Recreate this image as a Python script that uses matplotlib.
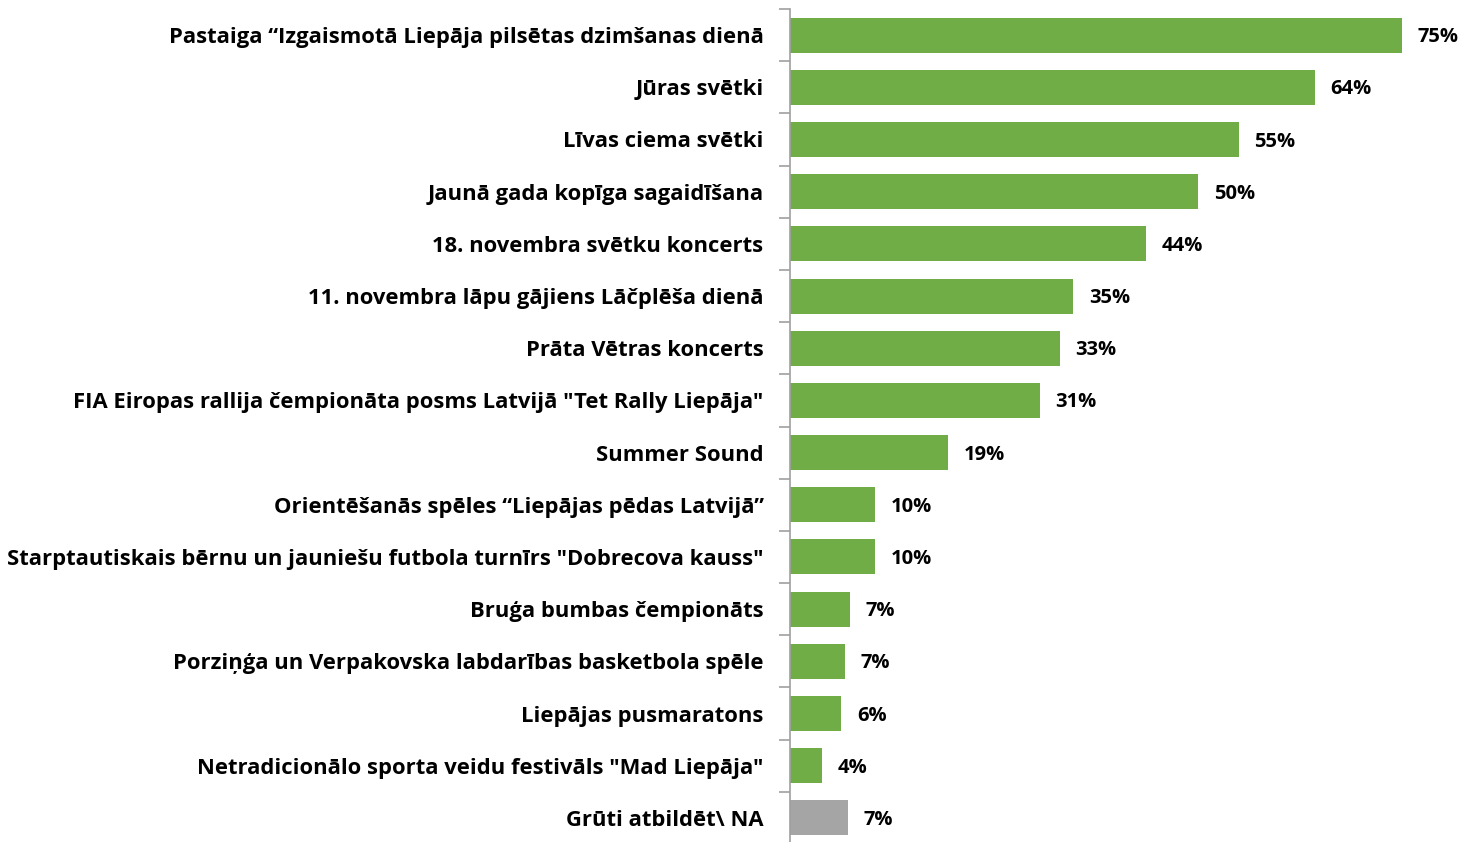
import matplotlib
matplotlib.use('Agg')
import matplotlib.pyplot as plt
from matplotlib.ticker import FixedLocator

plt.rcParams['font.family'] = ['Open Sans', 'DejaVu Sans']

categories = [
    'Pastaiga “Izgaismotā Liepāja pilsētas dzimšanas dienā',
    'Jūras svētki',
    'Līvas ciema svētki',
    'Jaunā gada kopīga sagaidīšana',
    '18. novembra svētku koncerts',
    '11. novembra lāpu gājiens Lāčplēša dienā',
    'Prāta Vētras koncerts',
    'FIA Eiropas rallija čempionāta posms Latvijā "Tet Rally Liepāja"',
    'Summer Sound',
    'Orientēšanās spēles “Liepājas pēdas Latvijā”',
    'Starptautiskais bērnu un jauniešu futbola turnīrs "Dobrecova kauss"',
    'Bruģa bumbas čempionāts',
    'Porziņģa un Verpakovska labdarības basketbola spēle',
    'Liepājas pusmaratons',
    'Netradicionālo sporta veidu festivāls "Mad Liepāja"',
    'Grūti atbildēt\\ NA',
]
values = [75.0, 64.3, 55.0, 50.0, 43.6, 34.7, 33.1, 30.6, 19.4, 10.4, 10.4, 7.3, 6.7, 6.3, 3.9, 7.1]
colors = ['#70AD47'] * 15 + ['#A5A5A5']

fig = plt.figure(figsize=(14.64, 8.42), dpi=100)
ax = fig.add_axes([790 / 1464, -2 / 842, (1443 - 790) / 1464, 835 / 842])

y = list(range(len(categories)))
ax.barh(y, values, height=0.67, color=colors)
ax.set_ylim(len(categories) - 0.5, -0.5)
ax.set_xlim(0, 80)

for yi, v in zip(y, values):
    ax.text(v + 1.9, yi + 0.04, '{:.0f}%'.format(v), va='center', ha='left',
            fontsize=14.5, fontweight='bold', color='black')

ax.set_yticks(y)
ax.set_yticklabels(categories, fontsize=15.8, fontweight='bold')
ax.tick_params(axis='y', which='major', length=0, pad=19)
ax.yaxis.set_minor_locator(FixedLocator([i - 0.5 for i in range(len(categories) + 1)]))
ax.tick_params(axis='y', which='minor', length=8, width=1.2, color='#A0A0A0')
ax.set_xticks([])
for s in ['top', 'right', 'bottom']:
    ax.spines[s].set_visible(False)
ax.spines['left'].set_color('#A0A0A0')
ax.spines['left'].set_linewidth(1.2)

plt.savefig('out.png', dpi=100)
